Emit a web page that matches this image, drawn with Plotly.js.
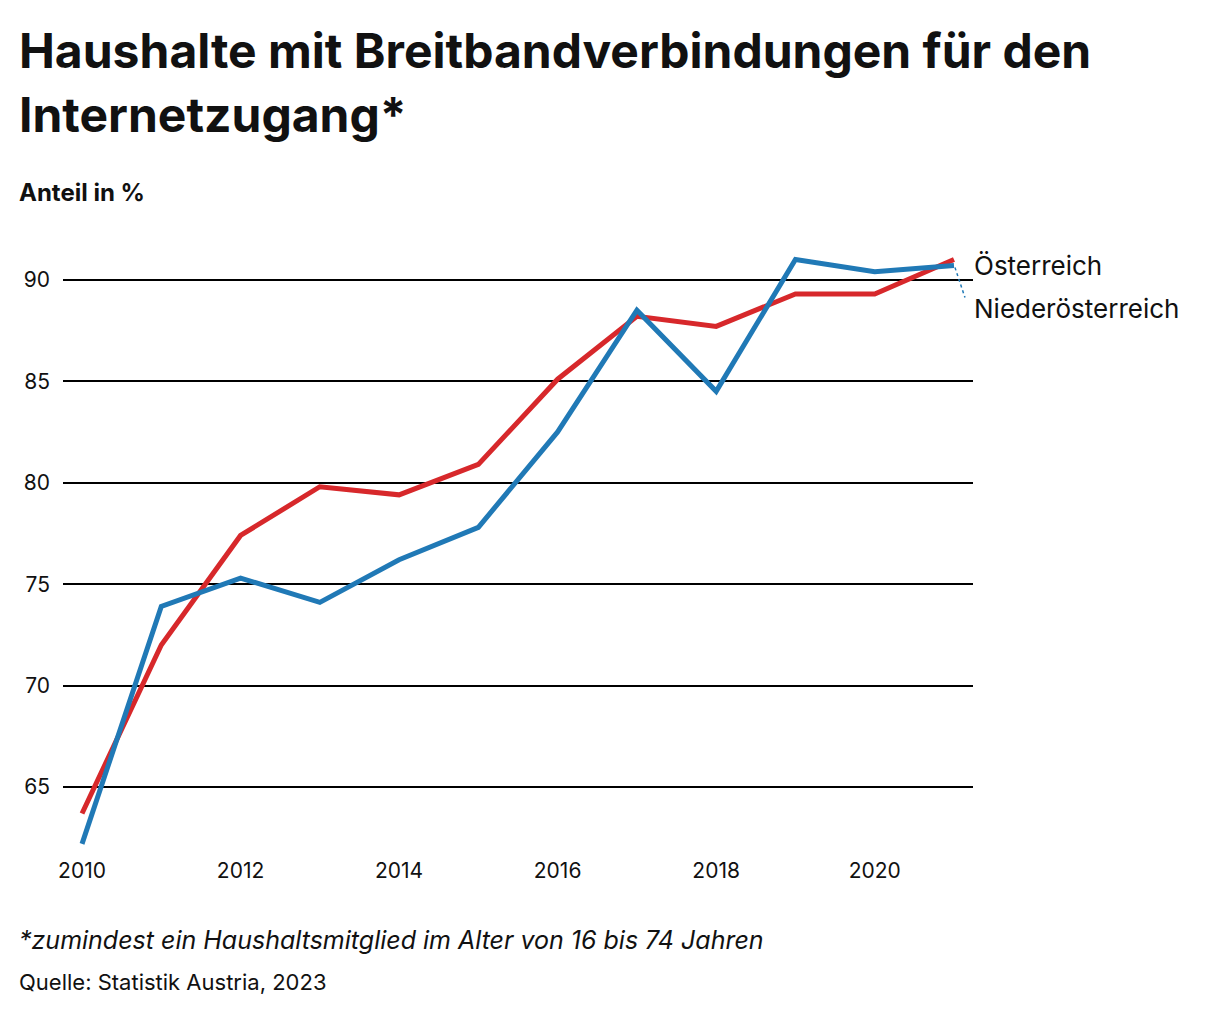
<!DOCTYPE html>
<html lang="de">
<head>
<meta charset="utf-8">
<script src="https://cdn.plot.ly/plotly-3.0.1.min.js"></script>
<style>
  html, body { margin: 0; padding: 0; background: #fff; }
  #chart { width: 1220px; height: 1020px; }
</style>
</head>
<body>
<div id="chart"></div>
<script>
// Anteil der Haushalte mit Breitband, 2010–2021
const years = [2010, 2011, 2012, 2013, 2014, 2015, 2016, 2017, 2018, 2019, 2020, 2021];
const oesterreich = [63.7, 72.0, 77.4, 79.8, 79.4, 80.9, 85.1, 88.2, 87.7, 89.3, 89.3, 91.0];
const niederoesterreich = [62.2, 73.9, 75.3, 74.1, 76.2, 77.8, 82.5, 88.5, 84.5, 91.0, 90.4, 90.7];

const yTicks = [65, 70, 75, 80, 85, 90];
const xTicks = [2010, 2012, 2014, 2016, 2018, 2020];

const RED = "#d7282b";
const BLUE = "#2079b6";
const FONT = "Inter, 'Open Sans', sans-serif";

const lastYear = years[years.length - 1];
const lastAT = oesterreich[oesterreich.length - 1];
const lastNOE = niederoesterreich[niederoesterreich.length - 1];

// Plotfläche in Pixeln: 63..973 x 229..850
const PW = 910, PH = 621;
const px = (x) => (x - 63) / PW;
const py = (y) => (850 - y) / PH;

const traces = [
  {
    x: years,
    y: oesterreich,
    name: "Österreich",
    type: "scatter",
    mode: "lines",
    line: { color: RED, width: 5 },
  },
  {
    x: years,
    y: niederoesterreich,
    name: "Niederösterreich",
    type: "scatter",
    mode: "lines",
    line: { color: BLUE, width: 5 },
  },
];

function textNote(text, x, y, size, extra) {
  return Object.assign({
    text,
    xref: "paper",
    yref: "paper",
    x: px(x),
    y: py(y),
    xanchor: "left",
    yanchor: "middle",
    showarrow: false,
    font: { family: FONT, size, color: "#111" },
  }, extra || {});
}

const layout = {
  width: 1220,
  height: 1020,
  margin: { t: 229, r: 247, b: 170, l: 63 },
  paper_bgcolor: "#fff",
  plot_bgcolor: "#fff",
  showlegend: false,
  font: { family: FONT, size: 20, color: "#111" },
  xaxis: {
    range: [2009.76, 2021.24],
    tickvals: xTicks,
    ticktext: xTicks.map(String),
    showgrid: false,
    zeroline: false,
    showline: false,
    ticks: "",
    ticklabelstandoff: 6,
    tickfont: { family: FONT, size: 21, color: "#111" },
  },
  yaxis: {
    range: [61.9, 92.5],
    tickvals: yTicks,
    ticktext: yTicks.map(String),
    showgrid: true,
    gridcolor: "#000",
    gridwidth: 2,
    zeroline: false,
    showline: false,
    ticks: "",
    ticklabelstandoff: 12,
    tickfont: { family: FONT, size: 21, color: "#111" },
  },
  shapes: [
    {
      // gepunktete Verbindung zum Label Niederösterreich
      type: "line",
      xref: "x",
      yref: "y",
      xsizemode: "pixel",
      ysizemode: "pixel",
      xanchor: lastYear,
      yanchor: lastNOE,
      x0: 1,
      x1: 11,
      y0: -2,
      y1: -32,
      line: { color: BLUE, width: 1.5, dash: "dot" },
    },
  ],
  annotations: [
    textNote("<b>Haushalte mit Breitbandverbindungen für den</b>", 17, 50, 48),
    textNote("<b>Internetzugang*</b>", 17, 114, 48),
    textNote("<b>Anteil in %</b>", 17, 193, 24),
    {
      text: "Österreich",
      x: lastYear,
      y: lastAT,
      xanchor: "left",
      yanchor: "middle",
      xshift: 18,
      yshift: -6,
      showarrow: false,
      font: { family: FONT, size: 26, color: "#111" },
    },
    {
      text: "Niederösterreich",
      x: lastYear,
      y: lastNOE,
      xanchor: "left",
      yanchor: "middle",
      xshift: 18,
      yshift: -43,
      showarrow: false,
      font: { family: FONT, size: 26, color: "#111" },
    },
    textNote("<i>*zumindest ein Haushaltsmitglied im Alter von 16 bis 74 Jahren</i>", 17, 940, 25),
    textNote("Quelle: Statistik Austria, 2023", 17, 982, 22),
  ],
};

Plotly.newPlot("chart", traces, layout, { displayModeBar: false, staticPlot: true });
</script>
</body>
</html>
